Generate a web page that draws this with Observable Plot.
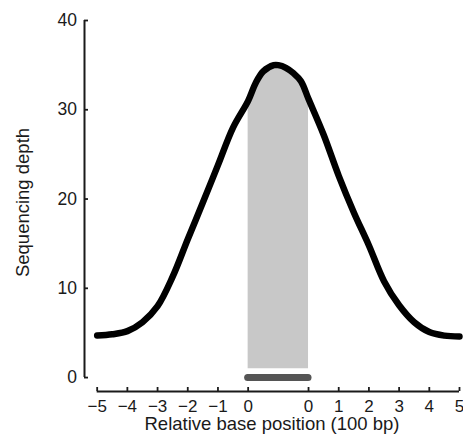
<!DOCTYPE html>
<html>
<head>
<meta charset="utf-8">
<script src="https://cdn.jsdelivr.net/npm/d3@7"></script>
<script src="https://cdn.jsdelivr.net/npm/@observablehq/plot@0.6"></script>
<style>
  html, body { margin: 0; padding: 0; background: #fff; }
</style>
</head>
<body>
<div id="chart"></div>
<script>
// Axis layout (the shaded feature occupies two plot units between the two "0" ticks)
const xMin = -5.42, xMax = 7;
const yMin = -1.56, yMax = 40;
const tickPositions = [-5, -4, -3, -2, -1, 0, 2, 3, 4, 5, 6, 7];
const tickLabels = ["−5", "−4", "−3", "−2", "−1", "0", "0", "1", "2", "3", "4", "5"];
const yTicks = [0, 10, 20, 30, 40];

// Coverage profile (plot x position, sequencing depth)
const xs = [-5, -4.5, -4, -3.5, -3, -2.5, -2, -1.5, -1, -0.5, 0, 0.25, 0.5, 0.85, 1.0, 1.25, 1.5, 1.75, 2.0, 2.5, 3.0, 3.5, 4.0, 4.5, 5.0, 5.5, 6.0, 6.5, 7];
const depths = [4.7, 4.85, 5.2, 6.2, 8.0, 11.3, 15.5, 19.6, 23.8, 28.0, 31.0, 33.0, 34.3, 35.0, 35.0, 34.7, 34.1, 33.2, 31.2, 27.2, 22.6, 18.5, 14.8, 10.8, 8.1, 6.2, 5.1, 4.7, 4.6];

// Feature region
const regionStart = 0, regionEnd = 2;
const shadeBase = 1;
const barLevel = 0;

const data = xs.map((x, i) => ({x, depth: depths[i]}));
const inside = data.filter(d => d.x >= regionStart && d.x <= regionEnd);

const ink = "#1a1a1a";
const chart = Plot.plot({
  width: 463,
  height: 443,
  marginLeft: 84,
  marginRight: 4,
  marginTop: 20,
  marginBottom: 52,
  x: {domain: [xMin, xMax], axis: null},
  y: {domain: [yMin, yMax], axis: null},
  style: {fontFamily: "'Liberation Sans', Arial, sans-serif", fontSize: "17px", color: ink, background: "#fff"},
  marks: [
    Plot.areaY(inside, {x: "x", y1: shadeBase, y2: "depth", fill: "#c8c8c8", curve: "catmull-rom"}),
    Plot.ruleY([barLevel], {x1: regionStart, x2: regionEnd, stroke: "#555", strokeWidth: 7, strokeLinecap: "round"}),
    Plot.line(data, {x: "x", y: "depth", stroke: "#000", strokeWidth: 6.5, curve: "catmull-rom", strokeLinecap: "round"}),
    Plot.ruleX([xMin], {y1: 0, y2: 40, stroke: ink, strokeWidth: 2}),
    Plot.ruleY([yMin], {x1: -5, x2: 7, stroke: ink, strokeWidth: 2}),
    Plot.axisY({ticks: yTicks, tickSize: 4, dx: 4, fill: "none", stroke: ink, strokeWidth: 1.8, label: null}),
    Plot.axisX({ticks: tickPositions, tickSize: 4, dy: -4, fill: "none", stroke: ink, strokeWidth: 1.8, label: null}),
    Plot.text(yTicks, {y: d => d, text: d => String(d), frameAnchor: "left", textAnchor: "end", lineAnchor: "middle", dx: -7.5, fontSize: 17.5, fill: ink}),
    Plot.text(tickPositions, {x: d => d, text: (d, i) => tickLabels[i], frameAnchor: "bottom", textAnchor: "middle", lineAnchor: "middle", dy: 15.3, fontSize: 17, fill: ink}),
    Plot.text(["Relative base position (100 bp)"], {frameAnchor: "bottom", lineAnchor: "middle", dy: 33, fontSize: 18.5, fill: ink}),
    Plot.text(["Sequencing depth"], {frameAnchor: "left", textAnchor: "middle", lineAnchor: "middle", dx: -61, dy: -3.5, rotate: -90, fontSize: 18.5, fill: ink})
  ]
});
document.getElementById("chart").append(chart);
</script>
</body>
</html>
